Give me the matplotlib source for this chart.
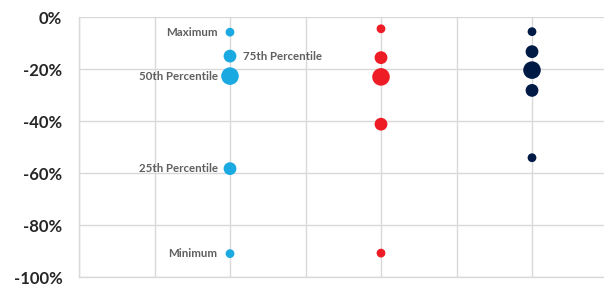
import matplotlib.pyplot as plt
from matplotlib.ticker import FuncFormatter

# x position of each group (between gridlines), percentiles in %
groups = [2, 4, 6]
colors = ['#1BA9E1', '#EE1C25', '#001A46']
stat_names = ['Maximum', '75th Percentile', '50th Percentile', '25th Percentile', 'Minimum']
blue_vals = [-5.8, -15.0, -22.7, -58.3, -91.0]
red_vals = [-4.5, -15.6, -23.0, -41.2, -90.8]
navy_vals = [-5.6, -13.3, -20.4, -28.2, -54.1]
sizes = [40, 85, 160, 85, 40]

series = [blue_vals, red_vals, navy_vals]

fig = plt.figure(figsize=(6.04, 2.85), dpi=100)
ax = fig.add_axes([0.1308, 0.028, 0.875, 0.912])

for x, vals, c in zip(groups, series, colors):
    ax.scatter([x] * len(vals), vals, s=sizes, color=c, zorder=3, linewidths=0)

# labels on the first group only
for name, v in zip(stat_names, blue_vals):
    right = name == '75th Percentile'
    ax.annotate(name, (groups[0], v), xytext=(9 if right else -9, 0),
                textcoords='offset points', ha='left' if right else 'right',
                va='center', fontsize=8.3, fontweight='bold',
                color='#5f5f5f', family='Lato')

ax.set_xlim(0, 7)
ax.set_ylim(-100, 0)
ax.set_xticks(range(0, 8))
ax.set_yticks(range(-100, 1, 20))
ax.yaxis.set_major_formatter(FuncFormatter(lambda v, p: f'{int(v)}%'))
ax.tick_params(axis='x', length=0, labelbottom=False)
ax.tick_params(axis='y', length=0, pad=12)
for lab in ax.get_yticklabels():
    lab.set_fontweight('bold')
    lab.set_fontsize(12)
    lab.set_family('Lato')
    lab.set_color('#262626')

ax.grid(True, color='#D9D9D9', linewidth=1)
ax.set_axisbelow(True)
for side in ['top', 'right']:
    ax.spines[side].set_visible(False)
for side in ['left', 'bottom']:
    ax.spines[side].set_color('#D9D9D9')
    ax.spines[side].set_linewidth(1)

fig.savefig('out.png', dpi=100)
